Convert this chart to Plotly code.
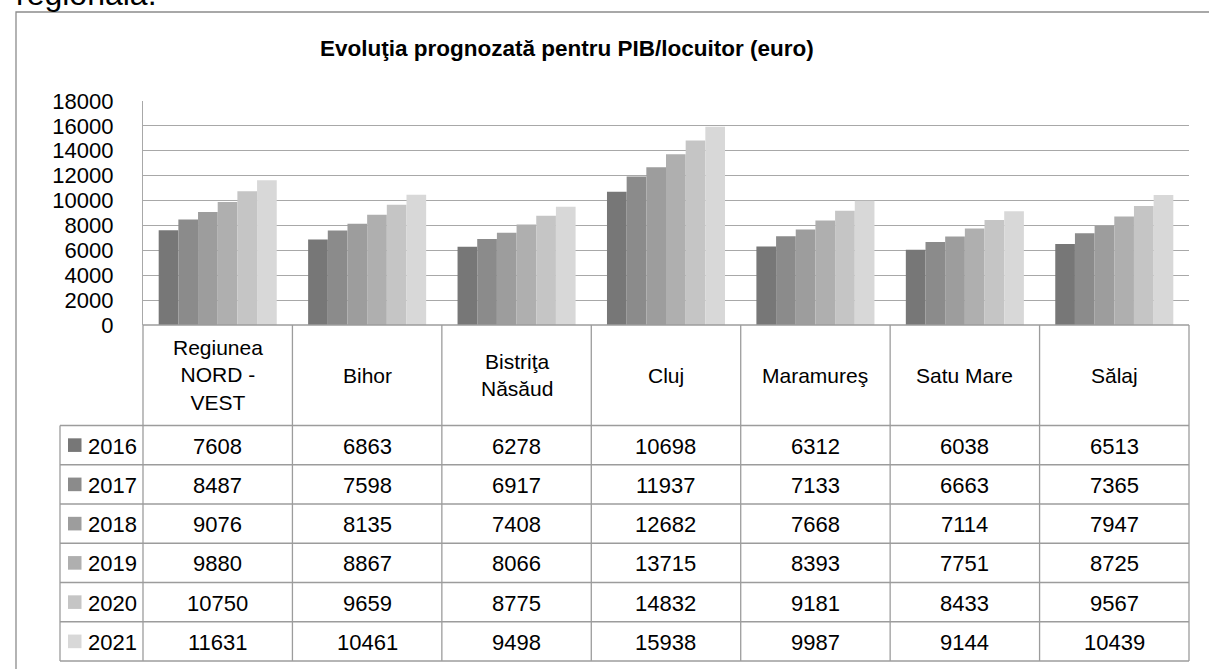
import plotly.graph_objects as go

# ---------------- data ----------------
categories = ["Regiunea NORD - VEST", "Bihor", "Bistriţa Năsăud", "Cluj",
              "Maramureş", "Satu Mare", "Sălaj"]
header_labels = ["Regiunea<br>NORD -<br>VEST", "Bihor", "Bistriţa<br>Năsăud", "Cluj",
                 "Maramureş", "Satu Mare", "Sălaj"]
years = ["2016", "2017", "2018", "2019", "2020", "2021"]
v2016 = [7608, 6863, 6278, 10698, 6312, 6038, 6513]
v2017 = [8487, 7598, 6917, 11937, 7133, 6663, 7365]
v2018 = [9076, 8135, 7408, 12682, 7668, 7114, 7947]
v2019 = [9880, 8867, 8066, 13715, 8393, 7751, 8725]
v2020 = [10750, 9659, 8775, 14832, 9181, 8433, 9567]
v2021 = [11631, 10461, 9498, 15938, 9987, 9144, 10439]
series = [v2016, v2017, v2018, v2019, v2020, v2021]
colors = ["#777777", "#8b8b8b", "#9d9d9d", "#afafaf", "#c5c5c5", "#d8d8d8"]
yticks = [0, 2000, 4000, 6000, 8000, 10000, 12000, 14000, 16000, 18000]
title_text = "Evoluţia prognozată pentru PIB/locuitor (euro)"
above_text = "regională."

# ---------------- layout geometry (pixels) ----------------
W, H = 1209, 669
PL, PR, PT, PB = 143, 1189, 101, 325   # plot area
FONT = "Liberation Sans, Arial, sans-serif"
LINE = "#9c9c9c"


def px(x):
    return (x - PL) / (PR - PL)


def py(y):
    return (PB - y) / (PB - PT)


fig = go.Figure()
for yr, vals, c in zip(years, series, colors):
    fig.add_trace(go.Bar(x=categories, y=vals, name=yr, marker=dict(color=c, line=dict(width=0)),
                         showlegend=False))

shapes = []
annotations = []

# outer chart border (extends beyond the picture on right/bottom)
shapes.append(dict(type="rect", xref="paper", yref="paper",
                   x0=px(16), x1=px(1230), y0=py(12), y1=py(690),
                   line=dict(color="#8c8c8c", width=1.3), fillcolor="rgba(0,0,0,0)", layer="below"))

# table geometry
ncol = len(categories)
col_w = (PR - PL) / ncol
col_edges = [PL + i * col_w for i in range(ncol + 1)]
row_top = 425.5
row_h = 39.25
row_edges = [row_top + i * row_h for i in range(len(years) + 1)]
TL = 60  # left edge of legend column

# header top line (x axis line)
shapes.append(dict(type="line", xref="paper", yref="paper",
                   x0=px(PL), x1=px(PR), y0=py(PB), y1=py(PB),
                   line=dict(color=LINE, width=1.3)))
# vertical column lines
for xe in col_edges:
    shapes.append(dict(type="line", xref="paper", yref="paper",
                       x0=px(xe), x1=px(xe), y0=py(PB), y1=py(row_edges[-1]),
                       line=dict(color=LINE, width=1.3)))
shapes.append(dict(type="line", xref="paper", yref="paper",
                   x0=px(TL), x1=px(TL), y0=py(row_edges[0]), y1=py(row_edges[-1]),
                   line=dict(color=LINE, width=1.3)))
for ye in row_edges:
    shapes.append(dict(type="line", xref="paper", yref="paper",
                       x0=px(TL), x1=px(PR), y0=py(ye), y1=py(ye),
                       line=dict(color=LINE, width=1.3)))

# header labels
for i, lab in enumerate(header_labels):
    annotations.append(dict(xref="paper", yref="paper", x=px(col_edges[i] + col_w / 2), y=py(375),
                            text=lab, showarrow=False, xanchor="center", yanchor="middle",
                            font=dict(family=FONT, size=21, color="#000000")))

# data rows
for r, (yr, vals, c) in enumerate(zip(years, series, colors)):
    yc = (row_edges[r] + row_edges[r + 1]) / 2
    shapes.append(dict(type="rect", xref="paper", yref="paper",
                       x0=px(68), x1=px(81.5), y0=py(yc - 6.8), y1=py(yc + 6.8),
                       fillcolor=c, line=dict(width=0)))
    annotations.append(dict(xref="paper", yref="paper", x=px(86), y=py(yc + 1),
                            text=yr, showarrow=False, xanchor="left", yanchor="middle",
                            font=dict(family=FONT, size=22, color="#000000")))
    for i, v in enumerate(vals):
        annotations.append(dict(xref="paper", yref="paper", x=px(col_edges[i] + col_w / 2), y=py(yc + 1),
                                text=str(v), showarrow=False, xanchor="center", yanchor="middle",
                                font=dict(family=FONT, size=22, color="#000000")))

# title
annotations.append(dict(xref="paper", yref="paper", x=px(567), y=py(48),
                        text="<b>" + title_text + "</b>", showarrow=False,
                        xanchor="center", yanchor="middle",
                        font=dict(family=FONT, size=22.5, color="#000000")))
# document text above the chart (cut off at the top edge, as in the source page)
annotations.append(dict(xref="paper", yref="paper", x=px(14), y=py(-6),
                        text=above_text, showarrow=False, xanchor="left", yanchor="middle",
                        font=dict(family=FONT, size=32, color="#000000")))

fig.update_layout(
    width=W, height=H, autosize=False,
    margin=dict(l=PL, r=W - PR, t=PT, b=H - PB, pad=0),
    paper_bgcolor="white", plot_bgcolor="white",
    barmode="group", bargap=0.21, bargroupgap=0,
    shapes=shapes, annotations=annotations,
    xaxis=dict(showticklabels=False, showgrid=False, zeroline=False, showline=False, ticks=""),
    yaxis=dict(range=[0, 18000], tickvals=yticks, ticktext=[str(t) for t in yticks],
               showgrid=True, gridcolor="#a8a8a8", gridwidth=1.2, zeroline=False,
               showline=True, linecolor="#a8a8a8", linewidth=1.2, ticks="",
               ticklabelstandoff=24,
               tickfont=dict(family=FONT, size=22, color="#000000")),
    font=dict(family=FONT),
)

fig.write_html("out.html", config={"displayModeBar": False},
               post_script="document.body.style.margin='0';document.body.style.overflow='hidden';")
